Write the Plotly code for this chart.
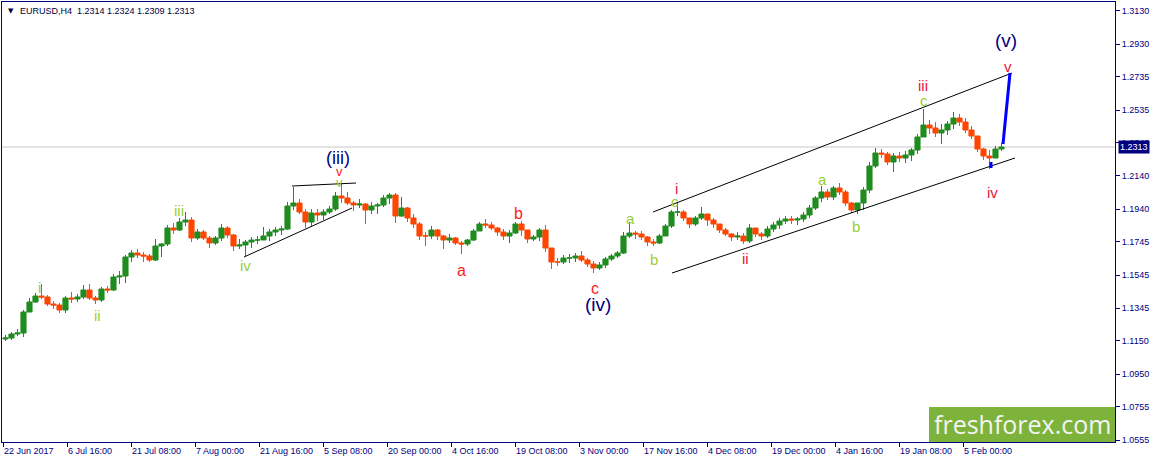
import plotly.graph_objects as go

# EURUSD H4, one candle per trading day (6 H4 bars)
first_open = 1.1161
closes = [
    1.1167, 1.1191, 1.1197, 1.1323, 1.1383, 1.1419, 1.1413, 1.1371, 1.1365, 1.1335,
    1.1407, 1.1401, 1.1413, 1.1455, 1.1407, 1.1395, 1.1461, 1.1455, 1.1533, 1.1539,
    1.1653, 1.1677, 1.1665, 1.1659, 1.1635, 1.1719, 1.1731, 1.1827, 1.1815, 1.1863,
    1.1875, 1.1767, 1.1803, 1.1767, 1.1737, 1.1767, 1.1827, 1.1785, 1.1719, 1.1725,
    1.1743, 1.1755, 1.1755, 1.1779, 1.1803, 1.1815, 1.1821, 1.1959, 1.1977, 1.1923,
    1.1863, 1.1917, 1.1905, 1.1923, 1.1941, 1.2019, 1.2007, 1.1977, 1.1965, 1.1971,
    1.1935, 1.1959, 1.1965, 1.2007, 1.2025, 1.1899, 1.1947, 1.1887, 1.1851, 1.1779,
    1.1779, 1.1815, 1.1779, 1.1755, 1.1767, 1.1737, 1.1731, 1.1755, 1.1809, 1.1851,
    1.1845, 1.1827, 1.1803, 1.1779, 1.1797, 1.1851, 1.1815, 1.1761, 1.1773, 1.1815,
    1.1707, 1.1623, 1.1623, 1.1647, 1.1647, 1.1659, 1.1635, 1.1611, 1.1587, 1.1605,
    1.1641, 1.1659, 1.1677, 1.1779, 1.1797, 1.1791, 1.1773, 1.1743, 1.1737, 1.1779,
    1.1839, 1.1923, 1.1923, 1.1887, 1.1851, 1.1887, 1.1911, 1.1875, 1.1851, 1.1815,
    1.1791, 1.1773, 1.1779, 1.1749, 1.1827, 1.1791, 1.1779, 1.1821, 1.1845, 1.1869,
    1.1881, 1.1875, 1.1881, 1.1905, 1.1947, 1.2007, 1.2043, 1.2013, 1.2067, 1.2043,
    1.1977, 1.1935, 1.1977, 1.2055, 1.2199, 1.2277, 1.2271, 1.2223, 1.2259, 1.2247,
    1.2265, 1.2295, 1.2373, 1.2445, 1.2427, 1.2397, 1.2415, 1.2451, 1.2487, 1.2463,
    1.2415, 1.2379, 1.2301, 1.2259, 1.2247, 1.2301, 1.2313,
]
highs = [
    1.1185, 1.1203, 1.1221, 1.1335, 1.1407, 1.1437, 1.1491, 1.1425, 1.1389, 1.1377,
    1.1419, 1.1443, 1.1431, 1.1485, 1.1491, 1.1419, 1.1473, 1.1479, 1.1551, 1.1569,
    1.1665, 1.1695, 1.1701, 1.1683, 1.1671, 1.1761, 1.1737, 1.1845, 1.1857, 1.1887,
    1.1923, 1.1893, 1.1821, 1.1815, 1.1779, 1.1779, 1.1851, 1.1839, 1.1791, 1.1761,
    1.1755, 1.1773, 1.1779, 1.1833, 1.1821, 1.1833, 1.1839, 1.1983, 1.2073, 1.2001,
    1.1941, 1.1941, 1.1941, 1.1941, 1.1959, 1.2043, 1.2097, 1.2043, 1.1989, 1.2001,
    1.1977, 1.1983, 1.1977, 1.2025, 1.2037, 1.2037, 1.2013, 1.1953, 1.1911, 1.1863,
    1.1803, 1.1839, 1.1821, 1.1785, 1.1791, 1.1773, 1.1749, 1.1761, 1.1821, 1.1863,
    1.1881, 1.1863, 1.1833, 1.1821, 1.1815, 1.1863, 1.1869, 1.1815, 1.1785, 1.1827,
    1.1845, 1.1707, 1.1647, 1.1665, 1.1671, 1.1677, 1.1689, 1.1647, 1.1629, 1.1623,
    1.1653, 1.1671, 1.1689, 1.1803, 1.1863, 1.1809, 1.1809, 1.1779, 1.1761, 1.1791,
    1.1851, 1.1935, 1.1977, 1.1935, 1.1887, 1.1899, 1.1953, 1.1905, 1.1887, 1.1851,
    1.1827, 1.1797, 1.1803, 1.1797, 1.1851, 1.1827, 1.1803, 1.1839, 1.1863, 1.1887,
    1.1899, 1.1899, 1.1893, 1.1923, 1.1965, 1.2019, 1.2079, 1.2061, 1.2079, 1.2097,
    1.2055, 1.1983, 1.1965, 1.2073, 1.2223, 1.2307, 1.2301, 1.2283, 1.2277, 1.2283,
    1.2289, 1.2307, 1.2391, 1.2541, 1.2475, 1.2463, 1.2451, 1.2469, 1.2523, 1.2511,
    1.2487, 1.2439, 1.2379, 1.2307, 1.2295, 1.2319, 1.2337,
]
lows = [
    1.1149, 1.1155, 1.1179, 1.1173, 1.1323, 1.1377, 1.1401, 1.1359, 1.1341, 1.1317,
    1.1317, 1.1377, 1.1383, 1.1401, 1.1395, 1.1371, 1.1383, 1.1437, 1.1449, 1.1491,
    1.1497, 1.1623, 1.1647, 1.1623, 1.1623, 1.1629, 1.1653, 1.1719, 1.1791, 1.1809,
    1.1839, 1.1743, 1.1755, 1.1755, 1.1707, 1.1725, 1.1749, 1.1767, 1.1689, 1.1701,
    1.1659, 1.1707, 1.1731, 1.1755, 1.1749, 1.1779, 1.1785, 1.1815, 1.1935, 1.1911,
    1.1827, 1.1839, 1.1869, 1.1875, 1.1911, 1.1929, 1.1977, 1.1965, 1.1929, 1.1947,
    1.1851, 1.1911, 1.1911, 1.1953, 1.1971, 1.1857, 1.1893, 1.1863, 1.1827, 1.1755,
    1.1719, 1.1761, 1.1755, 1.1701, 1.1737, 1.1725, 1.1671, 1.1719, 1.1749, 1.1809,
    1.1827, 1.1815, 1.1779, 1.1755, 1.1737, 1.1791, 1.1779, 1.1737, 1.1749, 1.1749,
    1.1683, 1.1581, 1.1599, 1.1611, 1.1617, 1.1623, 1.1623, 1.1593, 1.1557, 1.1575,
    1.1587, 1.1629, 1.1647, 1.1671, 1.1767, 1.1761, 1.1755, 1.1719, 1.1719, 1.1731,
    1.1779, 1.1827, 1.1899, 1.1869, 1.1827, 1.1839, 1.1875, 1.1839, 1.1827, 1.1797,
    1.1779, 1.1749, 1.1755, 1.1731, 1.1737, 1.1773, 1.1755, 1.1767, 1.1803, 1.1821,
    1.1851, 1.1851, 1.1845, 1.1863, 1.1887, 1.1935, 1.1983, 1.1995, 1.1995, 1.2025,
    1.1959, 1.1917, 1.1911, 1.1935, 1.2037, 1.2187, 1.2247, 1.2205, 1.2163, 1.2223,
    1.2217, 1.2229, 1.2271, 1.2385, 1.2391, 1.2373, 1.2331, 1.2385, 1.2421, 1.2439,
    1.2397, 1.2361, 1.2283, 1.2235, 1.2181, 1.2253, 1.2289,
]
last_price = 1.2313

price_ticks = [1.3130, 1.2930, 1.2735, 1.2535, 1.2340, 1.2140, 1.1940,
               1.1745, 1.1545, 1.1345, 1.1150, 1.0950, 1.0755, 1.0555]
date_labels = ["22 Jun 2017", "6 Jul 16:00", "21 Jul 08:00", "7 Aug 00:00",
               "21 Aug 16:00", "5 Sep 08:00", "20 Sep 00:00", "4 Oct 16:00",
               "19 Oct 08:00", "3 Nov 00:00", "17 Nov 16:00", "4 Dec 08:00",
               "19 Dec 00:00", "4 Jan 16:00", "19 Jan 08:00", "5 Feb 00:00"]

NAVY = "#000080"
YG = "#9ACD32"
RED = "#FF1A1A"
CRIM = "#E8143C"

# x axis counts H4 bars; a day is 6 bars, MT4 labels every 64 bars
bars = [6 * i + 2.5 for i in range(len(closes))]
date_ticks = [64 * i for i in range(len(date_labels))]

opens = [first_open] + closes[:-1]
hi = [max(h, o, c) for h, o, c in zip(highs, opens, closes)]
lo = [min(l, o, c) for l, o, c in zip(lows, opens, closes)]

candles = go.Candlestick(
    x=bars, open=opens, high=hi, low=lo, close=closes,
    increasing=dict(line=dict(color="#1E8C1E", width=1), fillcolor="#1E8C1E"),
    decreasing=dict(line=dict(color="#FF4500", width=1), fillcolor="#FF4500"),
    whiskerwidth=0, hoverinfo="skip", showlegend=False,
)

# wave labels: text, bar, price, colour, size
wave_labels = [
    ("i", 36, 1.1473, YG, 15), ("ii", 94, 1.1305, YG, 15),
    ("iii", 176, 1.1935, YG, 15), ("iv", 242, 1.1605, YG, 15),
    ("v", 336, 1.2101, YG, 13), ("v", 336, 1.2167, RED, 13),
    ("(iii)", 335, 1.2249, NAVY, 18),
    ("a", 458, 1.1575, RED, 16), ("b", 515, 1.1917, RED, 16),
    ("c", 592, 1.1467, RED, 16), ("(iv)", 595, 1.1371, NAVY, 19),
    ("a", 627, 1.1887, YG, 15), ("b", 651, 1.1641, YG, 15),
    ("c", 672, 1.1989, YG, 15), ("i", 673, 1.2067, CRIM, 15),
    ("ii", 742, 1.1647, CRIM, 15), ("a", 819, 1.2121, YG, 15),
    ("b", 853, 1.1839, YG, 15), ("iii", 920, 1.2685, CRIM, 15),
    ("c", 921, 1.2595, YG, 15), ("iv", 989, 1.2043, CRIM, 15),
    ("(v)", 1003, 1.2955, NAVY, 19), ("v", 1005, 1.2799, CRIM, 15),
]

# trend lines: x0, y0, x1, y1, colour, width
trend_lines = [
    (650, 1.1923, 1009, 1.2757, "black", 1),
    (669, 1.1557, 1012, 1.2247, "black", 1),
    (289, 1.2079, 353, 1.2097, "black", 1),
    (241, 1.1653, 349, 1.1947, "black", 1),
    (1000, 1.2331, 1007, 1.2757, "#0000FF", 3),
    (988, 1.2223, 988, 1.2187, "#0000FF", 3),
]

shapes = [dict(type="line", xref="paper", x0=0, x1=1, yref="y",
               y0=last_price, y1=last_price, layer="below",
               line=dict(color="#C8C8C8", width=1))]
for x0, y0, x1, y1, col, w in trend_lines:
    shapes.append(dict(type="line", xref="x", yref="y", x0=x0, y0=y0,
                       x1=x1, y1=y1, line=dict(color=col, width=w)))
shapes.append(dict(type="rect", xref="x", yref="y", x0=926, x1=1112,
                   y0=1.0543, y1=1.0753, fillcolor="#7DB33A",
                   line=dict(width=0), layer="above"))

annotations = []
for txt, bx, py, col, sz in wave_labels:
    annotations.append(dict(x=bx, y=py, xref="x", yref="y", text=txt,
                            showarrow=False, font=dict(family="Liberation Sans",
                                                       size=sz, color=col)))
annotations += [
    dict(x=1019, y=1.0650, xref="x", yref="y", text="freshforex.com",
         showarrow=False, font=dict(family="Open Sans", size=25, color="#F4F4F4")),
    dict(x=0.0035, y=0.979, xref="paper", yref="paper", text="▼",
         showarrow=False, xanchor="left", yanchor="middle",
         font=dict(family="DejaVu Sans", size=7, color="#000040")),
    dict(x=0.0145, y=0.979, xref="paper", yref="paper",
         text="EURUSD,H4  1.2314 1.2324 1.2309 1.2313",
         showarrow=False, xanchor="left", yanchor="middle",
         font=dict(family="Liberation Sans", size=9, color="#000040")),
    dict(x=1, y=last_price, xref="paper", yref="y", text="1.2313",
         showarrow=False, xanchor="left", yanchor="middle", xshift=3,
         bgcolor=NAVY, borderpad=1,
         font=dict(family="Liberation Sans", size=9, color="white")),
]

fig = go.Figure(data=[candles])
fig.update_layout(
    width=1155, height=463,
    margin=dict(l=2, r=40, t=2, b=21),
    paper_bgcolor="white", plot_bgcolor="white",
    boxgap=0.15, boxgroupgap=0,
    shapes=shapes, annotations=annotations,
    xaxis=dict(range=[-1, 1112], rangeslider=dict(visible=False),
               tickvals=date_ticks, ticktext=date_labels,
               ticks="outside", ticklen=4, tickcolor=NAVY,
               ticklabelposition="outside right",
               showgrid=False, zeroline=False,
               showline=True, linecolor=NAVY, linewidth=1, mirror=True,
               tickfont=dict(family="Liberation Sans", size=9, color=NAVY)),
    yaxis=dict(range=[1.0543, 1.3183], side="right",
               tickvals=price_ticks, ticktext=["%.4f" % v for v in price_ticks],
               ticks="outside", ticklen=4, tickcolor=NAVY,
               showgrid=False, zeroline=False,
               showline=True, linecolor=NAVY, linewidth=1, mirror=True,
               tickfont=dict(family="Liberation Sans", size=9, color=NAVY)),
)

# drop the page's default 8px body margin so the chart fills the window
fig.write_html("out.html", config={"displayModeBar": False},
               post_script="document.body.style.margin='0';")
